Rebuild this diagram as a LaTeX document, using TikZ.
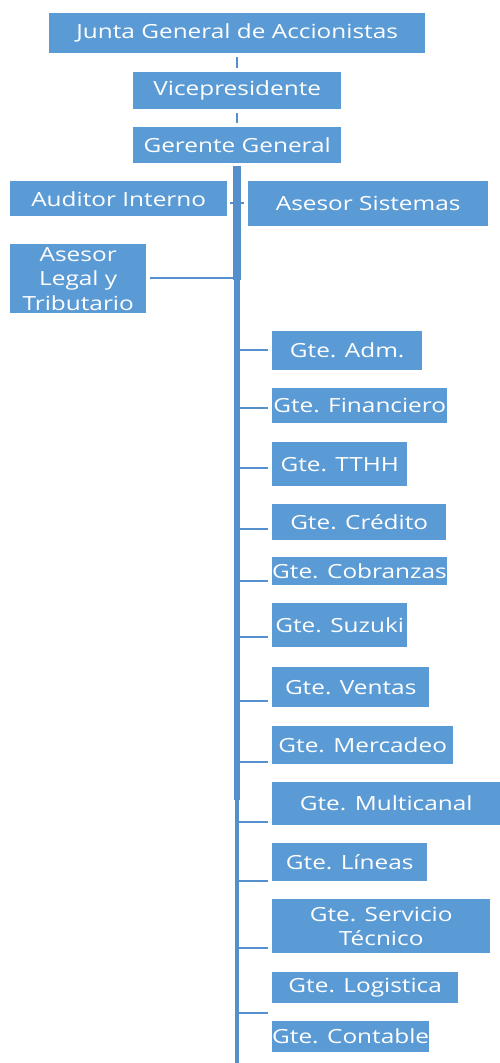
\documentclass[tikz,border=0pt]{standalone}
\usepackage{fontspec}
\setmainfont{Open Sans}[FakeStretch=1.25]
\usetikzlibrary{calc}
\definecolor{boxblue}{HTML}{5B9BD5}
\definecolor{lineblue}{HTML}{5590CC}
\begin{document}
\begin{tikzpicture}[x=1pt,y=-1pt,
  box/.style={fill=boxblue,draw=none,anchor=north west,inner sep=0pt,
    text=white,align=center,font=\fontsize{19.5}{24.5}\selectfont},
  conn/.style={draw=lineblue,line width=2.2pt},
  trunk/.style={draw=lineblue}]
\useasboundingbox (0,0) rectangle (500,1063);
\newcommand{\obox}[6]{\node[box,minimum width=#4-#2,minimum height=#5-#3] (#1) at (#2,#3) {#6};}
% top chain
\obox{junta}{49}{13}{425}{53}{Junta General de Accionistas}
\obox{vice}{133}{72}{341}{109}{Vicepresidente}
\obox{gg}{133}{127}{341}{163}{Gerente General}
\draw[conn,shorten <=4pt,shorten >=4pt] (junta.south -| 237,0) -- (vice.north -| 237,0);
\draw[conn,shorten <=4pt,shorten >=4pt] (vice.south -| 237,0) -- (gg.north -| 237,0);
% trunk
\coordinate (t0) at (237,166);
\coordinate (t1) at (237,280);
\coordinate (t2) at (237,800);
\coordinate (t3) at (237,1063);
\draw[trunk,line width=8pt] (t0) -- (t1);
\draw[trunk,line width=6pt] (t1) -- (t2);
\draw[trunk,line width=4pt] (t2) -- (t3);
% staff
\obox{aud}{10}{181}{227}{216}{Auditor Interno}
\obox{sis}{248}{181}{488}{226}{Asesor Sistemas}
\obox{leg}{10}{244}{146}{313}{Asesor\\Legal y\\Tributario}
\coordinate (ja) at (237,203);
\draw[conn,line width=1.5pt] ($(ja)+(-7,0)$) -- ($(ja)+(7,0)$);
\coordinate (jl) at (237,278);
\draw[conn,shorten >=4pt] (jl) -- (jl -| leg.east);
% managers
\obox{g1}{272}{331}{422}{370}{Gte. Adm.}
\obox{g2}{272}{388}{447}{423}{Gte. Financiero}
\obox{g3}{272}{442}{407}{486}{Gte. TTHH}
\obox{g4}{272}{504}{446}{540}{Gte. Crédito}
\obox{g5}{272}{557}{446}{585}{Gte. Cobranzas}
\obox{g6}{272}{603}{407}{647}{Gte. Suzuki}
\obox{g7}{272}{667}{429}{707}{Gte. Ventas}
\obox{g8}{272}{726}{453}{764}{Gte. Mercadeo}
\obox{g9}{272}{782}{500}{825}{Gte. Multicanal}
\obox{g10}{272}{843}{427}{881}{Gte. Líneas}
\obox{g11}{272}{899}{490}{953}{Gte. Servicio\\Técnico}
\obox{g12}{272}{972}{458}{1003}{Gte. Logistica}
\obox{g13}{272}{1021}{428}{1052}{Gte. Contable}
\foreach \n/\yy in {g1/350,g2/408,g3/468,g4/529,g5/581,g6/637,g7/701,g8/762,g9/822,g10/881,g11/948,g12/1013}{
  \coordinate (c\n) at (238,\yy);
  \draw[conn,shorten >=4pt] (c\n) -- (c\n -| \n.west);
}
\end{tikzpicture}
\end{document}
